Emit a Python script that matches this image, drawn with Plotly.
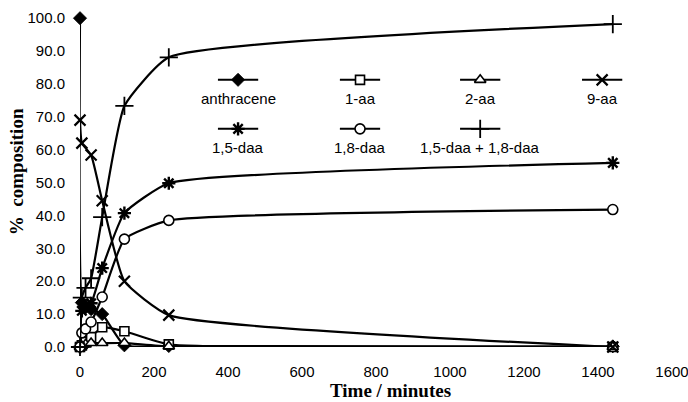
import plotly.graph_objects as go

# Reaction time (minutes) and % composition of each species
times = [0, 5, 15, 30, 60, 120, 240, 1440]
anthracene = [100.0, 13.5, 12.0, 11.5, 10.0, 0.5, 0.3, 0.2]
aa_1 = [0.0, 0.5, 1.5, 3.0, 6.0, 4.8, 0.8, 0.0]
aa_2 = [0.0, 0.3, 0.8, 1.2, 1.2, 1.2, 0.2, 0.0]
aa_9 = [69.0, 62.0, None, 58.4, 44.5, 20.0, 9.7, 0.0]
daa_15 = [0.0, 11.0, 12.5, 13.3, 24.0, 40.7, 49.8, 56.0]
daa_18 = [0.0, 4.3, 5.5, 7.6, 15.2, 32.8, 38.5, 41.8]
daa_sum = [0.0, 15.0, 18.0, 20.9, 39.5, 73.3, 88.1, 98.2]

x_ticks = [0, 200, 400, 600, 800, 1000, 1200, 1400, 1600]
y_ticks = [0, 10, 20, 30, 40, 50, 60, 70, 80, 90, 100]

series = [
    ("anthracene", anthracene, dict(symbol="diamond", size=10, color="black",
                                    line=dict(color="black", width=1))),
    ("1-aa", aa_1, dict(symbol="square", size=9, color="white",
                        line=dict(color="black", width=1.6))),
    ("2-aa", aa_2, dict(symbol="triangle-up", size=10, color="white",
                        line=dict(color="black", width=1.6))),
    ("9-aa", aa_9, dict(symbol="x-thin", size=11, color="black",
                        line=dict(color="black", width=2.2))),
    ("1,5-daa", daa_15, dict(symbol="asterisk", size=11, color="black",
                             line=dict(color="black", width=2.4))),
    ("1,8-daa", daa_18, dict(symbol="circle", size=10, color="white",
                             line=dict(color="black", width=1.6))),
    ("1,5-daa + 1,8-daa", daa_sum, dict(symbol="cross-thin", size=13, color="black",
                                        line=dict(color="black", width=1.8))),
]

fig = go.Figure()

for name, vals, mk in series:
    fig.add_trace(go.Scatter(
        x=times, y=vals, name=name, mode="lines+markers",
        line=dict(color="black", width=2.2, shape="spline", smoothing=0.45),
        marker=mk, connectgaps=True, cliponaxis=False, showlegend=False,
    ))

# Hand-built key: line sample with marker, label underneath (4 columns x 2 rows)
key_cols = [0.267, 0.473, 0.676, 0.882]
key_rows = [0.812, 0.663]
half = 0.034
for i, (name, vals, mk) in enumerate(series):
    cx = key_cols[i % 4]
    ry = key_rows[i // 4]
    fig.add_trace(go.Scatter(
        x=[cx - half, cx + half], y=[ry, ry], mode="lines",
        line=dict(color="black", width=2), xaxis="x2", yaxis="y2",
        showlegend=False, hoverinfo="skip",
    ))
    fig.add_trace(go.Scatter(
        x=[cx], y=[ry], mode="markers", marker=mk, xaxis="x2", yaxis="y2",
        showlegend=False, hoverinfo="skip", cliponaxis=False,
    ))
    fig.add_annotation(
        x=cx, y=ry - 0.057, xref="x2", yref="y2", text=name, showarrow=False,
        font=dict(family="Liberation Sans", size=15, color="black"),
        xanchor="center", yanchor="middle",
    )

fig.add_annotation(
    x=0.524, y=-0.131, xref="paper", yref="paper", text="<b>Time / minutes</b>",
    showarrow=False, font=dict(family="Liberation Serif", size=19, color="black"),
    xanchor="center", yanchor="middle",
)
fig.add_annotation(
    x=-0.106, y=0.532, xref="paper", yref="paper", text="<b>%  composition</b>",
    showarrow=False, textangle=-90,
    font=dict(family="Liberation Serif", size=19, color="black"),
    xanchor="center", yanchor="middle",
)

tick_font = dict(family="Liberation Sans", size=15, color="black")
fig.update_layout(
    width=688, height=402,
    margin=dict(l=80, r=16, t=18, b=55, autoexpand=False),
    paper_bgcolor="white", plot_bgcolor="white",
    xaxis=dict(range=[0, 1600], tickvals=x_ticks, showgrid=False, zeroline=False,
               showline=False, ticks="", tickfont=tick_font, ticklabelstandoff=14,
               ticklabeloverflow="allow", automargin=False),
    yaxis=dict(range=[0, 100.05], tickvals=y_ticks, tickformat=".1f", showgrid=False,
               zeroline=False, showline=False, ticks="", tickfont=tick_font,
               ticklabelstandoff=14, ticklabeloverflow="allow", automargin=False),
    xaxis2=dict(range=[0, 1], overlaying="x", visible=False),
    yaxis2=dict(range=[0, 1], overlaying="y", visible=False),
)

fig.write_html("out.html")
